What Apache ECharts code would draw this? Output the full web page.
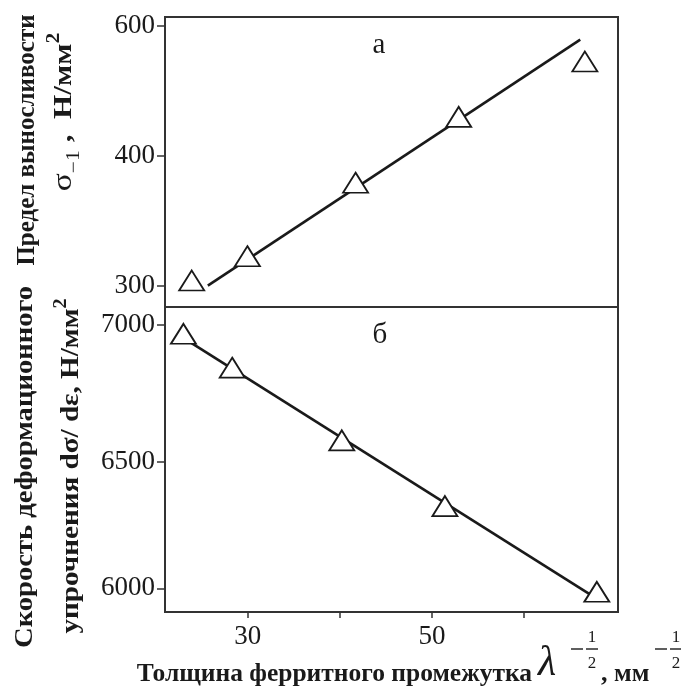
<!DOCTYPE html>
<html>
<head>
<meta charset="utf-8">
<script src="https://cdn.jsdelivr.net/npm/echarts@6/dist/echarts.min.js"></script>
<style>
	html, body { margin: 0; padding: 0; background: #fff; }
	#chart { width: 681px; height: 688px; }
</style>
</head>
<body>
<div id="chart"></div>
<script>
// а) предел выносливости
const lambdaTop = [23.9, 29.95, 41.7, 52.9, 66.6]
const enduranceLimit = [303, 318, 374, 444, 527]
const lambdaTopFit = [25.65, 66.1]
const enduranceFit = [300, 569]

// б) скорость деформационного упрочнения
const lambdaBottom = [23.0, 28.3, 40.2, 51.4, 67.9]
const hardeningRate = [6968, 6847, 6580, 6329, 5986]
const lambdaBottomFit = [23.5, 67.2]
const hardeningFit = [6943, 5974]

// деления осей
const xTicks = [30, 40, 50, 60]
const xLabels = [30, 50]
const topTicks = [600, 400, 300]
const bottomTicks = [7000, 6500, 6000]

// шкалы в оригинале нелинейные: верх ~ 1/σ, низ ~ σ^2
const toTop = (v) => 1200 / v
const fromTop = (t) => Math.round(1200 / t)
const toBottom = (v) => (v / 1000) * (v / 1000)
const fromBottom = (s) => Math.round(Math.sqrt(s) * 1000)

const SERIF = 'Liberation Serif, Times New Roman, serif'
const INK = '#1a1a1a'
const FRAME = '#333'

const zip = (xs, ys, f) => xs.map((x, i) => [x, f(ys[i])])

const chart = echarts.init(document.getElementById('chart'), null, { renderer: 'canvas' })

const tickLabel = {
	fontFamily: SERIF,
	fontSize: 27,
	color: INK,
}

const marker = {
	symbol: 'triangle',
	symbolSize: [25, 20],
	itemStyle: { color: '#fff', borderColor: INK, borderWidth: 1.8, opacity: 1 },
	z: 3,
}

const option = {
	animation: false,
	backgroundColor: '#fff',
	grid: [
		{ left: 165, top: 17, width: 453, height: 290, show: true, borderColor: FRAME, borderWidth: 2 },
		{ left: 165, top: 307, width: 453, height: 305, show: true, borderColor: FRAME, borderWidth: 2 },
	],
	xAxis: [
		{
			gridIndex: 0,
			type: 'value',
			min: 21,
			max: 70.2,
			axisLine: { show: false },
			axisTick: { show: false },
			axisLabel: { show: false },
			splitLine: { show: false },
		},
		{
			gridIndex: 1,
			type: 'value',
			min: 21,
			max: 70.2,
			axisLine: { show: true, lineStyle: { color: FRAME, width: 2 } },
			axisTick: {
				show: true,
				length: 6,
				customValues: xTicks,
				lineStyle: { color: FRAME, width: 1.5 },
			},
			axisLabel: { ...tickLabel, margin: 11, customValues: xLabels },
			splitLine: { show: false },
		},
	],
	yAxis: [
		{
			gridIndex: 0,
			type: 'value',
			inverse: true,
			min: 1.935,
			max: 4.164,
			axisLine: { show: true, lineStyle: { color: FRAME, width: 2 } },
			axisTick: {
				show: true,
				length: 8,
				customValues: topTicks.map(toTop),
				lineStyle: { color: FRAME, width: 1.5 },
			},
			axisLabel: {
				...tickLabel,
				margin: 10,
				customValues: topTicks.map(toTop),
				formatter: (t) => fromTop(t),
			},
			splitLine: { show: false },
		},
		{
			gridIndex: 1,
			type: 'value',
			min: 34.836,
			max: 49.873,
			axisLine: { show: true, lineStyle: { color: FRAME, width: 2 } },
			axisTick: {
				show: true,
				length: 8,
				customValues: bottomTicks.map(toBottom),
				lineStyle: { color: FRAME, width: 1.5 },
			},
			axisLabel: {
				...tickLabel,
				margin: 10,
				customValues: bottomTicks.map(toBottom),
				formatter: (s) => fromBottom(s),
			},
			splitLine: { show: false },
		},
	],
	series: [
		{
			type: 'line',
			xAxisIndex: 0,
			yAxisIndex: 0,
			data: zip(lambdaTopFit, enduranceFit, toTop),
			showSymbol: false,
			lineStyle: { color: INK, width: 2.6 },
			z: 2,
		},
		{
			type: 'scatter',
			xAxisIndex: 0,
			yAxisIndex: 0,
			data: zip(lambdaTop, enduranceLimit, toTop),
			...marker,
		},
		{
			type: 'line',
			xAxisIndex: 1,
			yAxisIndex: 1,
			data: zip(lambdaBottomFit, hardeningFit, toBottom),
			showSymbol: false,
			lineStyle: { color: INK, width: 2.6 },
			z: 2,
		},
		{
			type: 'scatter',
			xAxisIndex: 1,
			yAxisIndex: 1,
			data: zip(lambdaBottom, hardeningRate, toBottom),
			...marker,
		},
	],
	graphic: [
		// метки панелей
		{ type: 'text', x: 379, y: 45, style: { text: 'а', font: '29px ' + SERIF, fill: INK, align: 'center', verticalAlign: 'middle' } },
		{ type: 'text', x: 380, y: 335, style: { text: 'б', font: '29px ' + SERIF, fill: INK, align: 'center', verticalAlign: 'middle' } },
		// подписи оси Y (повернуты)
		{
			type: 'text', x: 28, y: 140, rotation: Math.PI / 2,
			style: { text: 'Предел выносливости', font: 'bold 25px ' + SERIF, fill: INK, align: 'center', verticalAlign: 'middle' },
		},
		{
			type: 'text', x: 64, y: 112, rotation: Math.PI / 2, scaleX: 1.2,
			style: {
				text: '{s|σ}{sub|−1}{m| ,  Н/мм}{sup|2}',
				align: 'center', verticalAlign: 'middle', fill: INK,
				rich: {
					s: { font: '28px ' + SERIF, fill: INK, lineHeight: 38 },
					m: { font: 'bold 26px ' + SERIF, fill: INK, lineHeight: 38 },
					sub: { font: '18px ' + SERIF, fill: INK, lineHeight: 38, verticalAlign: 'bottom' },
					sup: { font: 'bold 18px ' + SERIF, fill: INK, lineHeight: 38, verticalAlign: 'top' },
				},
			},
		},
		{
			type: 'text', x: 25, y: 467, rotation: Math.PI / 2, scaleX: 1.1,
			style: { text: 'Скорость деформационного', font: 'bold 26px ' + SERIF, fill: INK, align: 'center', verticalAlign: 'middle' },
		},
		{
			type: 'text', x: 71, y: 466, rotation: Math.PI / 2, scaleX: 1.12,
			style: {
				text: '{m|упрочнения dσ/ dε, Н/мм}{sup|2}',
				align: 'center', verticalAlign: 'middle', fill: INK,
				rich: {
					m: { font: 'bold 26px ' + SERIF, fill: INK, lineHeight: 38 },
					sup: { font: 'bold 18px ' + SERIF, fill: INK, lineHeight: 38, verticalAlign: 'top' },
				},
			},
		},
		// подпись оси X
		{
			type: 'text', x: 532, y: 674,
			style: { text: 'Толщина ферритного промежутка', font: 'bold 25.5px ' + SERIF, fill: INK, align: 'right', verticalAlign: 'middle' },
		},
		{
			type: 'text', x: 547, y: 664,
			style: { text: 'λ', font: 'italic 42px ' + SERIF, fill: INK, align: 'center', verticalAlign: 'middle' },
		},
		{ type: 'line', shape: { x1: 571, y1: 649, x2: 583, y2: 649 }, style: { stroke: INK, lineWidth: 1.4 } },
		{ type: 'text', x: 592, y: 638, style: { text: '1', font: '17px ' + SERIF, fill: INK, align: 'center', verticalAlign: 'middle' } },
		{ type: 'line', shape: { x1: 586, y1: 649, x2: 598, y2: 649 }, style: { stroke: INK, lineWidth: 1.4 } },
		{ type: 'text', x: 592, y: 664, style: { text: '2', font: '17px ' + SERIF, fill: INK, align: 'center', verticalAlign: 'middle' } },
		{
			type: 'text', x: 601, y: 674,
			style: { text: ', мм', font: 'bold 26px ' + SERIF, fill: INK, align: 'left', verticalAlign: 'middle' },
		},
		{ type: 'line', shape: { x1: 655, y1: 649, x2: 667, y2: 649 }, style: { stroke: INK, lineWidth: 1.4 } },
		{ type: 'text', x: 676, y: 638, style: { text: '1', font: '17px ' + SERIF, fill: INK, align: 'center', verticalAlign: 'middle' } },
		{ type: 'line', shape: { x1: 670, y1: 649, x2: 681, y2: 649 }, style: { stroke: INK, lineWidth: 1.4 } },
		{ type: 'text', x: 676, y: 664, style: { text: '2', font: '17px ' + SERIF, fill: INK, align: 'center', verticalAlign: 'middle' } },
	],
}

chart.setOption(option)
</script>
</body>
</html>
